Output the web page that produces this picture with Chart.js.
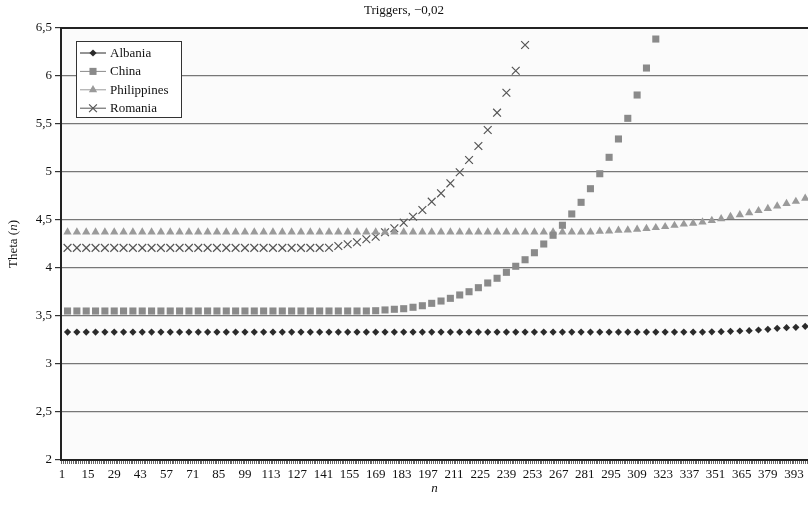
<!DOCTYPE html>
<html>
<head>
<meta charset="utf-8">
<script src="https://cdn.jsdelivr.net/npm/chart.js@4.4.0/dist/chart.umd.min.js"></script>
<style>
    html, body { margin: 0; padding: 0; background: #fff; overflow: hidden; }
    #grafico { display: block; width: 808px; height: 506px; }
</style>
</head>
<body>
<canvas id="grafico" width="808" height="506"></canvas>
<script>
// n where a marker is drawn (every 5th step)
const nPontos = [4, 9, 14, 19, 24, 29, 34, 39, 44, 49, 54, 59, 64, 69, 74, 79, 84, 89, 94, 99,
    104, 109, 114, 119, 124, 129, 134, 139, 144, 149, 154, 159, 164, 169, 174, 179, 184, 189, 194, 199,
    204, 209, 214, 219, 224, 229, 234, 239, 244, 249, 254, 259, 264, 269, 274, 279, 284, 289, 294, 299,
    304, 309, 314, 319, 324, 329, 334, 339, 344, 349, 354, 359, 364, 369, 374, 379, 384, 389, 394, 399];

const albania = [3.333, 3.333, 3.333, 3.333, 3.333, 3.333, 3.333, 3.333, 3.333, 3.333,
    3.333, 3.333, 3.333, 3.333, 3.333, 3.333, 3.333, 3.333, 3.333, 3.333,
    3.333, 3.333, 3.333, 3.333, 3.333, 3.333, 3.333, 3.333, 3.333, 3.333,
    3.333, 3.333, 3.333, 3.333, 3.333, 3.333, 3.333, 3.333, 3.333, 3.333,
    3.333, 3.333, 3.333, 3.333, 3.333, 3.333, 3.333, 3.333, 3.333, 3.333,
    3.333, 3.333, 3.333, 3.333, 3.333, 3.333, 3.333, 3.333, 3.333, 3.333,
    3.333, 3.333, 3.333, 3.333, 3.333, 3.333, 3.333, 3.333, 3.333, 3.335,
    3.337, 3.340, 3.344, 3.347, 3.354, 3.361, 3.372, 3.378, 3.382, 3.392];

const china = [3.552, 3.552, 3.552, 3.552, 3.552, 3.552, 3.552, 3.552, 3.552, 3.552,
    3.552, 3.552, 3.552, 3.552, 3.552, 3.552, 3.552, 3.552, 3.552, 3.552,
    3.552, 3.552, 3.552, 3.552, 3.552, 3.552, 3.552, 3.552, 3.552, 3.552,
    3.552, 3.552, 3.552, 3.555, 3.563, 3.570, 3.576, 3.591, 3.607, 3.632,
    3.656, 3.684, 3.719, 3.753, 3.795, 3.844, 3.893, 3.955, 4.018, 4.086,
    4.159, 4.250, 4.341, 4.445, 4.563, 4.684, 4.826, 4.982, 5.153, 5.344,
    5.559, 5.802, 6.083, 6.385, null, null, null, null, null, null,
    null, null, null, null, null, null, null, null, null, null];

const philippines = [4.375, 4.375, 4.375, 4.375, 4.375, 4.375, 4.375, 4.375, 4.375, 4.375,
    4.375, 4.375, 4.375, 4.375, 4.375, 4.375, 4.375, 4.375, 4.375, 4.375,
    4.375, 4.375, 4.375, 4.375, 4.375, 4.375, 4.375, 4.375, 4.375, 4.375,
    4.375, 4.375, 4.375, 4.375, 4.375, 4.375, 4.375, 4.375, 4.375, 4.375,
    4.375, 4.375, 4.375, 4.375, 4.375, 4.375, 4.375, 4.375, 4.375, 4.375,
    4.375, 4.375, 4.375, 4.375, 4.375, 4.375, 4.375, 4.382, 4.385, 4.393,
    4.396, 4.403, 4.410, 4.420, 4.430, 4.443, 4.456, 4.466, 4.479, 4.495,
    4.513, 4.536, 4.554, 4.575, 4.597, 4.618, 4.646, 4.672, 4.693, 4.726];

const romania = [4.21, 4.21, 4.21, 4.21, 4.21, 4.21, 4.21, 4.21, 4.21, 4.21,
    4.21, 4.21, 4.21, 4.21, 4.21, 4.21, 4.21, 4.21, 4.21, 4.21,
    4.21, 4.21, 4.21, 4.21, 4.21, 4.21, 4.21, 4.21, 4.211, 4.229,
    4.247, 4.268, 4.299, 4.326, 4.372, 4.414, 4.472, 4.534, 4.604, 4.691,
    4.778, 4.882, 4.997, 5.125, 5.271, 5.438, 5.618, 5.826, 6.055, 6.323,
    null, null, null, null, null, null, null, null, null, null,
    null, null, null, null, null, null, null, null, null, null,
    null, null, null, null, null, null, null, null, null, null];

const xRotulos = [1, 15, 29, 43, 57, 71, 85, 99, 113, 127, 141, 155, 169, 183, 197,
    211, 225, 239, 253, 267, 281, 295, 309, 323, 337, 351, 365, 379, 393];
const yRotulos = [2, 2.5, 3, 3.5, 4, 4.5, 5, 5.5, 6, 6.5];
const nMax = 400;

const FONTE = "'Liberation Serif', 'Times New Roman', serif";
Chart.defaults.font.family = FONTE;
Chart.defaults.font.size = 13;
Chart.defaults.color = "#111";

// sem margem extra por causa do tamanho dos marcadores: a area do grafico vai ate a borda direita
const Dispersao = Chart.registry.getController("scatter");
Dispersao.prototype.getMaxOverflow = function () { return 0; };

function pontos(serie) {
    return nPontos.map((n, i) => ({ x: n, y: serie[i] }));
}

function desenharMarcador(ctx, estilo, x, y, r, cor) {
    ctx.fillStyle = cor;
    ctx.strokeStyle = cor;
    ctx.beginPath();
    if (estilo === "rectRot") {
        ctx.moveTo(x, y - r); ctx.lineTo(x + r, y); ctx.lineTo(x, y + r); ctx.lineTo(x - r, y);
        ctx.closePath(); ctx.fill();
    } else if (estilo === "rect") {
        const s = r * Math.SQRT1_2;
        ctx.rect(x - s, y - s, 2 * s, 2 * s); ctx.fill();
    } else if (estilo === "triangle") {
        const h = r * Math.sin(Math.PI / 3);
        ctx.moveTo(x, y - r); ctx.lineTo(x + h, y + r / 2); ctx.lineTo(x - h, y + r / 2);
        ctx.closePath(); ctx.fill();
    } else {
        const o = r * Math.SQRT1_2;
        ctx.lineWidth = 1.2;
        ctx.moveTo(x - o, y - o); ctx.lineTo(x + o, y + o);
        ctx.moveTo(x + o, y - o); ctx.lineTo(x - o, y + o);
        ctx.stroke();
    }
}

const extras = {
    id: "extras",
    beforeDraw(chart) {
        const { ctx, chartArea: a } = chart;
        ctx.save();
        ctx.fillStyle = "#fbfbfb";
        ctx.fillRect(a.left, a.top, a.right - a.left, a.bottom - a.top);
        ctx.restore();
    },
    afterDraw(chart) {
        const { ctx, chartArea: a } = chart;
        ctx.save();

        // borda superior
        ctx.strokeStyle = "#222";
        ctx.lineWidth = 2;
        ctx.beginPath();
        ctx.moveTo(a.left, a.top);
        ctx.lineTo(a.right, a.top);
        ctx.stroke();

        // legenda
        ctx.fillStyle = "#fff";
        ctx.fillRect(76, 41, 105, 76);
        ctx.strokeStyle = "#333";
        ctx.lineWidth = 1;
        ctx.strokeRect(76.5, 41.5, 105, 76);
        chart.data.datasets.forEach((ds, i) => {
            const y = 53 + i * 18.4;
            ctx.strokeStyle = ds.borderColor;
            ctx.lineWidth = 1;
            ctx.beginPath();
            ctx.moveTo(80, y);
            ctx.lineTo(106, y);
            ctx.stroke();
            desenharMarcador(ctx, ds.pointStyle, 93, y, ds.pointRadius, ds.backgroundColor);
            ctx.fillStyle = "#111";
            ctx.font = "13px " + FONTE;
            ctx.textBaseline = "middle";
            ctx.textAlign = "left";
            ctx.fillText(ds.label, 110, y + 0.5);
        });

        // titulo do eixo y: Theta (n)
        ctx.translate(14, (a.top + a.bottom) / 2);
        ctx.rotate(-Math.PI / 2);
        ctx.textBaseline = "middle";
        ctx.textAlign = "left";
        const partes = [["Theta (", ""], ["n", "italic "], [")", ""]];
        let total = 0;
        partes.forEach(p => { ctx.font = p[1] + "13px " + FONTE; total += ctx.measureText(p[0]).width; });
        let x = -total / 2;
        ctx.fillStyle = "#111";
        partes.forEach(p => {
            ctx.font = p[1] + "13px " + FONTE;
            ctx.fillText(p[0], x, 0);
            x += ctx.measureText(p[0]).width;
        });
        ctx.restore();
    }
};

new Chart(document.getElementById("grafico"), {
    type: "scatter",
    data: {
        datasets: [
            { label: "Albania", data: pontos(albania), pointStyle: "rectRot", pointRadius: 3.6,
              backgroundColor: "#2b2b2b", borderColor: "#2b2b2b", borderWidth: 0 },
            { label: "China", data: pontos(china), pointStyle: "rect", pointRadius: 5,
              backgroundColor: "#8a8a8a", borderColor: "#8a8a8a", borderWidth: 0 },
            { label: "Philippines", data: pontos(philippines), pointStyle: "triangle", pointRadius: 4.8,
              backgroundColor: "#9a9a9a", borderColor: "#9a9a9a", borderWidth: 0 },
            { label: "Romania", data: pontos(romania), pointStyle: "crossRot", pointRadius: 5.5,
              backgroundColor: "#555", borderColor: "#555", borderWidth: 1.2 }
        ]
    },
    options: {
        responsive: false,
        animation: false,
        events: [],
        layout: { padding: 0 },
        plugins: {
            legend: { display: false },
            tooltip: { enabled: false },
            title: {
                display: true,
                text: "Triggers, \u22120,02",
                font: { family: FONTE, size: 13, weight: "normal" },
                color: "#111",
                padding: { top: 3, bottom: 9.4 }
            }
        },
        scales: {
            x: {
                type: "linear",
                min: 0.5,
                max: nMax + 0.5,
                afterBuildTicks: s => {
                    const t = [];
                    for (let n = 1; n <= nMax; n++) t.push({ value: n });
                    s.ticks = t;
                },
                ticks: {
                    autoSkip: false,
                    maxRotation: 0,
                    padding: 3,
                    color: "#111",
                    font: { size: 13 },
                    callback: v => xRotulos.includes(v) ? String(v) : ""
                },
                grid: { drawOnChartArea: false, tickLength: 4, tickColor: "#666", lineWidth: 1 },
                border: { color: "#222", width: 2 },
                title: {
                    display: true,
                    text: "n",
                    font: { family: FONTE, size: 13, style: "italic" },
                    color: "#111",
                    padding: { top: 2, bottom: 10 }
                },
                afterFit: s => { s.height = 46; s.paddingLeft = 0; s.paddingRight = 0; }
            },
            y: {
                min: 2,
                max: 6.5,
                afterBuildTicks: s => { s.ticks = yRotulos.map(v => ({ value: v })); },
                ticks: {
                    padding: 3,
                    color: "#111",
                    font: { size: 13 },
                    callback: v => String(v).replace(".", ",")
                },
                grid: { color: "#777", lineWidth: 1.2, tickLength: 6, tickColor: "#333" },
                border: { color: "#222", width: 2 },
                afterFit: s => { s.width = 61; }
            }
        }
    },
    plugins: [extras]
});
</script>
</body>
</html>
